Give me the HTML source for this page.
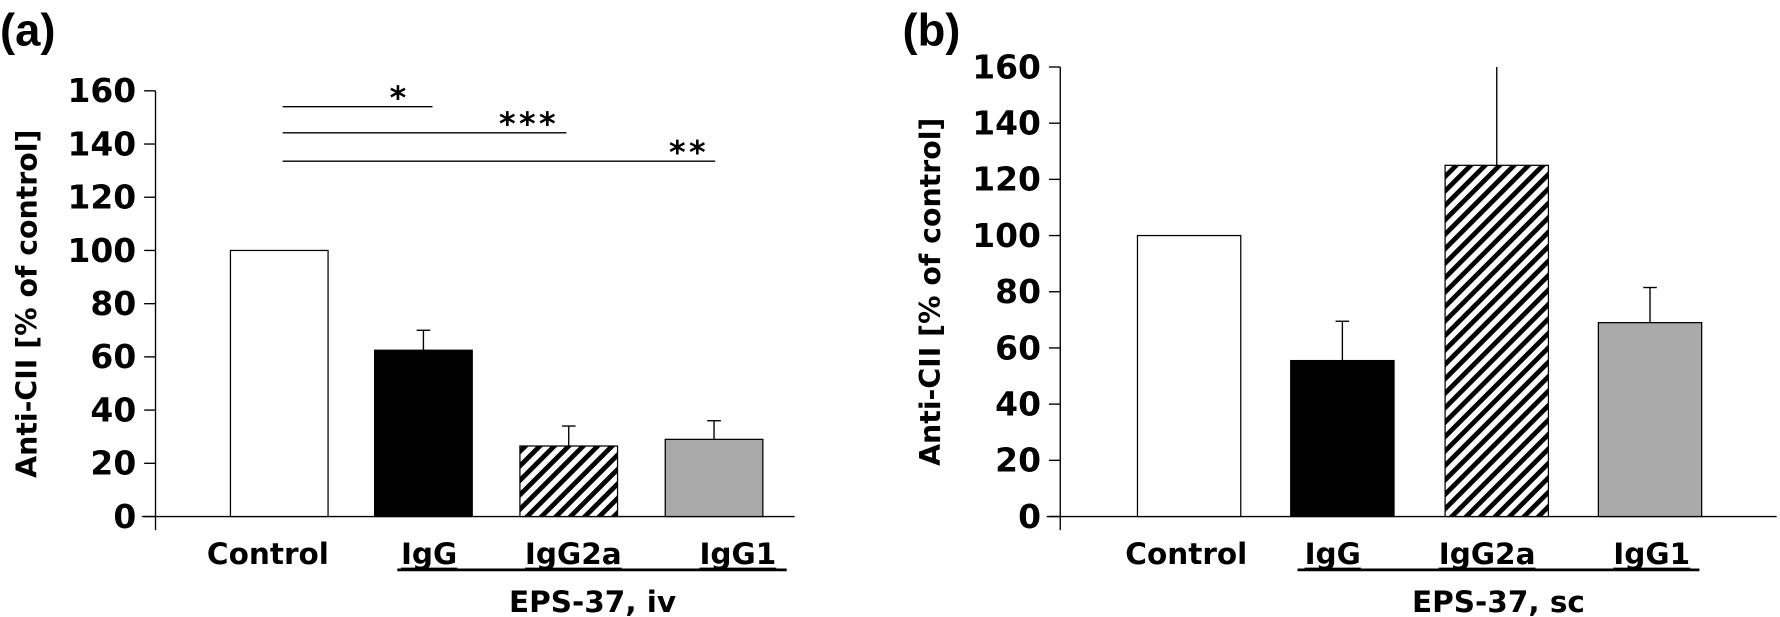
<!DOCTYPE html>
<html><head><meta charset="utf-8"><style>
body{margin:0;background:#fff}
svg{display:block;font-family:"DejaVu Sans","Liberation Sans",sans-serif;font-weight:bold}
</style></head><body>
<svg id="c" width="1780" height="617" viewBox="0 0 1780 617">
<defs>
<pattern id="hatch" width="9" height="9" patternUnits="userSpaceOnUse" patternTransform="rotate(45)">
<rect width="9" height="9" fill="#fff"/><rect width="4.2" height="9" fill="#000"/>
</pattern>
</defs>
<g id="root" transform="scale(1.13520)"></g>
</svg>
<script>
const categories=["Control","IgG","IgG2a","IgG1"];
const valuesA=[100,62.5,26.5,29];
const errorsA=[0,7.5,7.5,7];
const valuesB=[100,55.5,125,69];
const errorsB=[0,14,35,12.5];
const yTicks=[0,20,40,60,80,100,120,140,160];
const fills=["#fff","#000","url(#hatch)","#aaa"];
const root=document.getElementById('root');
const NS="http://www.w3.org/2000/svg";
function mk(tag,attrs,parent){const e=document.createElementNS(NS,tag);for(const k in attrs)e.setAttribute(k,attrs[k]);(parent||root).appendChild(e);return e;}
function panel(o){
  const g=mk('g',{});
  
  
  const y=v=>o.y0-(v/160)*(o.y0-o.y160);
  const t=mk('text',{x:o.labX,y:40,'font-size':40,'font-family':'Liberation Sans, sans-serif'},g);t.textContent=o.tag;
  
  mk('line',{x1:o.ax,x2:o.ax,y1:o.y160,y2:o.y0+12,stroke:'#000','stroke-width':1.2},g);
  mk('line',{x1:o.ax-12,x2:o.xEnd,y1:o.y0,y2:o.y0,stroke:'#000','stroke-width':1.2},g);
  yTicks.forEach(v=>{
    mk('line',{x1:o.ax-10,x2:o.ax,y1:y(v),y2:y(v),stroke:'#000','stroke-width':1.2},g);
    const tx=mk('text',{x:o.ax-17,y:y(v)+10,'font-size':29,'text-anchor':'end'},g);tx.textContent=v;
    
  });
  const yl=mk('text',{x:0,y:0,'font-size':25,'text-anchor':'middle',transform:`translate(${o.ylX},${(o.y0+o.y160)/2}) rotate(-90)`},g);
  yl.textContent="Anti-CII [% of control]";
  
  o.vals.forEach((v,i)=>{
    const x=o.barX[i];
    const r=mk('rect',{x:x,y:y(v),width:o.bw,height:o.y0-y(v),fill:fills[i],stroke:'#000','stroke-width':1.1},g);
    
    if(o.errs[i]>0){
      const cx=x+o.bw/2, top=y(Math.min(v+o.errs[i],160));
      const el=mk('line',{x1:cx,x2:cx,y1:y(v),y2:top,stroke:'#000','stroke-width':1.2},g);
      
      if(v+o.errs[i]<160) mk('line',{x1:cx-6,x2:cx+6,y1:top,y2:top,stroke:'#000','stroke-width':1.2},g);
    }
    const lb=mk('text',{x:o.labC[i],y:497,'font-size':26,'text-anchor':'middle'},g);
    lb.textContent=categories[i];
    
    if(i>0){const w=lb.getComputedTextLength();mk('line',{x1:o.labC[i]-w/2,x2:o.labC[i]+w/2,y1:501,y2:501,stroke:'#000','stroke-width':2},g);}
  });
  mk('line',{x1:o.ulX1,x2:o.ulX2,y1:502,y2:502,stroke:'#000','stroke-width':2.5},g);
  const gl=mk('text',{x:o.grpC,y:539,'font-size':26,'text-anchor':'middle'},g);gl.textContent=o.grp;
  
  return g;
}
panel({name:'panel-a',tag:'(a)',labX:0,ax:137,xEnd:700,y0:455,y160:80,ylX:32,bw:86,
  barX:[203,330,458,586],labC:[236,378,505,650],vals:valuesA,errs:errorsA,ulX1:350,ulX2:693,grpC:522,grp:'EPS-37, iv'});
panel({name:'panel-b',tag:'(b)',labX:795,ax:934,xEnd:1565,y0:455,y160:59,ylX:828,bw:91,
  barX:[1002,1137,1273,1408],labC:[1045,1174,1310,1455],vals:valuesB,errs:errorsB,ulX1:1143,ulX2:1497,grpC:1320,grp:'EPS-37, sc'});
const sig=[[94,381,352,'*'],[117,499,466,'***'],[142,630,607,'**']];
sig.forEach(s=>{
  const l=mk('line',{x1:249,x2:s[1],y1:s[0],y2:s[0],stroke:'#000','stroke-width':1.2});
  
  const t=mk('text',{x:s[2],y:s[0]+2,'font-size':28,'text-anchor':'middle','letter-spacing':3});t.textContent=s[3];
  
});
</script>
</body></html>
